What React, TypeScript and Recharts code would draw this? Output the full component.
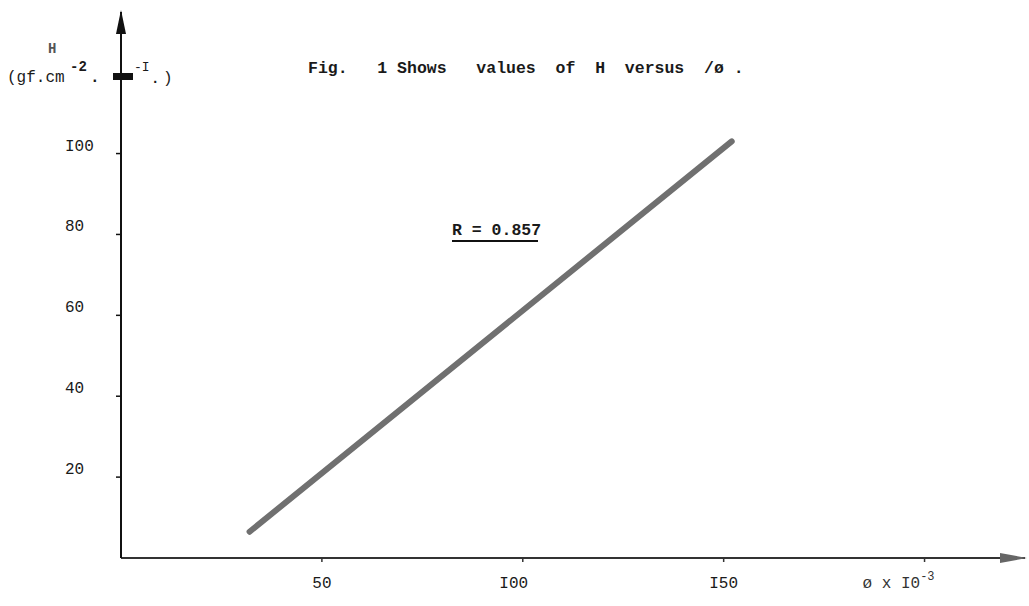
import { LineChart, Line, XAxis, YAxis, Customized } from "recharts";

// H versus phi (x 10^-3)
const phiValues = [32, 152];
const hValues = [6.5, 103];

const xTicks = [50, 100, 150, 200];
const xTickLabels = ["50", "I00", "I50", "ø x I0"];
const yTicks = [20, 40, 60, 80, 100];
const yTickLabels = ["20", "40", "60", "80", "I00"];

const data = phiValues.map((phi, i) => ({ phi, h: hValues[i] }));

const MONO = "'Liberation Mono', 'DejaVu Sans Mono', monospace";
const INK = "#1a1a1a";

const XTick = (props: any) => {
  const { x, y, payload, index } = props;
  const label = xTickLabels[index];
  if (payload.value === 200) {
    return (
      <text x={x + 10} y={y} dy={24} textAnchor="end" fontFamily={MONO} fontSize={16} fill="#333">
        {label}
        <tspan dy={-8} fontSize={12}>-3</tspan>
      </text>
    );
  }
  const shift = payload.value === 100 ? -9 : 0;
  return (
    <text x={x + shift} y={y} dy={24} textAnchor="middle" fontFamily={MONO} fontSize={16} fill={INK}>
      {label}
    </text>
  );
};

const YTick = (props: any) => {
  const { y, index } = props;
  return (
    <text x={65} y={y} dy={-3} textAnchor="start" fontFamily={MONO} fontSize={16} fill={INK}>
      {yTickLabels[index]}
    </text>
  );
};

const Decorations = () => (
  <g fontFamily={MONO} fill={INK}>
    {/* y axis title and unit */}
    <text x={48} y={53} fontSize={14} fontWeight="bold" fill="#555">H</text>
    <text x={7} y={82} fontSize={16}>(gf.cm</text>
    <text x={70} y={71} fontSize={14} fontWeight="bold">-2</text>
    <text x={90} y={82} fontSize={16} fontWeight="bold">.</text>
    <rect x={113} y={73} width={20} height={7} fill="#111" />
    <text x={134} y={71} fontSize={13}>-I</text>
    <text x={151} y={83} fontSize={14} fontWeight="bold">.</text>
    <text x={163} y={83} fontSize={16}>)</text>
    {/* caption */}
    <text x={308} y={73} fontSize={16.5} fontWeight="bold" style={{ whiteSpace: "pre" }}>
      {"Fig.   1 Shows   values  of  H  versus  /ø ."}
    </text>
    {/* correlation note */}
    <text x={452} y={235} fontSize={16.5} fontWeight="bold" style={{ whiteSpace: "pre" }}>
      {"R = 0.857"}
    </text>
    <line x1={452} y1={241} x2={538} y2={241} stroke="#111" strokeWidth={2} />
  </g>
);

export default function App() {
  return (
    <div style={{ position: "absolute", left: 0, top: 0, background: "#fff" }}>
      <LineChart
        width={1029}
        height={606}
        data={data}
        margin={{ top: 12, right: 4, bottom: 0, left: 0 }}
      >
        <defs>
          <marker
            id="arrowX"
            viewBox="0 0 27 10"
            markerWidth={27}
            markerHeight={10}
            refX={25}
            refY={5}
            orient="auto"
            markerUnits="userSpaceOnUse"
          >
            <path d="M0,0 L27,5 L0,10 z" fill="#666" />
          </marker>
          <marker
            id="arrowY"
            viewBox="0 0 24 10"
            markerWidth={24}
            markerHeight={10}
            refX={22}
            refY={5}
            orient="auto-start-reverse"
            markerUnits="userSpaceOnUse"
          >
            <path d="M0,0 L24,5 L0,10 z" fill="#111" />
          </marker>
        </defs>
        <XAxis
          dataKey="phi"
          type="number"
          domain={[0, 225]}
          ticks={xTicks}
          height={48}
          axisLine={{ stroke: "#333", strokeWidth: 2, markerEnd: "url(#arrowX)" }}
          tickLine={{ stroke: "#333", strokeWidth: 1.5 }}
          tickSize={4}
          tickMargin={2}
          tick={<XTick />}
          interval={0}
        />
        <YAxis
          dataKey="h"
          type="number"
          domain={[0, 135]}
          ticks={yTicks}
          width={121}
          axisLine={{ stroke: "#111", strokeWidth: 2, markerStart: "url(#arrowY)" }}
          tickLine={{ stroke: "#111", strokeWidth: 1.5 }}
          tickSize={5}
          tick={<YTick />}
          interval={0}
        />
        <Line
          type="linear"
          dataKey="h"
          stroke="#707070"
          strokeWidth={6}
          strokeLinecap="round"
          dot={false}
          activeDot={false}
          isAnimationActive={false}
        />
        <Customized component={Decorations} />
      </LineChart>
    </div>
  );
}
